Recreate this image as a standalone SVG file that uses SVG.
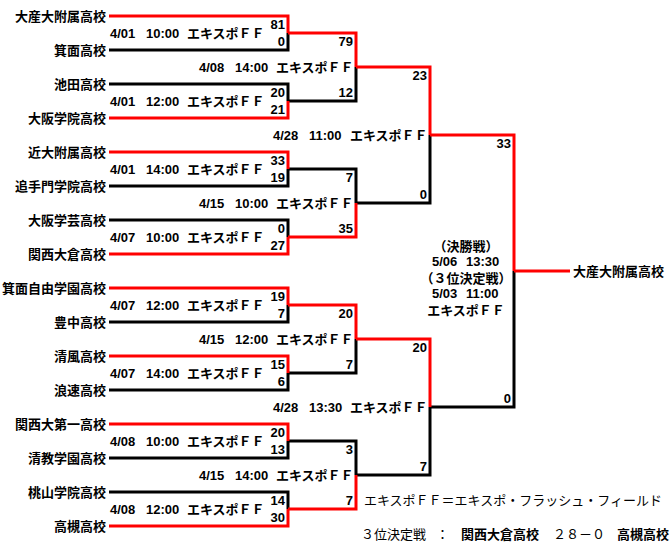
<svg xmlns="http://www.w3.org/2000/svg" width="670" height="542" viewBox="0 0 670 542">
<style>
text{font-family:"Noto Sans CJK JP","Noto Sans CJK SC",sans-serif;font-size:13px;fill:#000}
.b{font-weight:bold}
.n{font-weight:normal}
.tm{font-weight:bold;text-anchor:end}
.sc{font-family:"Liberation Sans","Noto Sans CJK JP",sans-serif;font-weight:bold;text-anchor:end}
.d{font-family:"Liberation Sans","Noto Sans CJK JP",sans-serif}
.mid{text-anchor:middle;font-weight:bold}
.k{fill:none;stroke:#000;stroke-width:3;stroke-linejoin:miter}
.r{fill:none;stroke:#f00;stroke-width:3;stroke-linejoin:miter}
</style>
<rect x="0" y="0" width="670" height="542" fill="#fff"/>
<g id="connectors">
<polyline class="k" points="109,50 288,50 288,33"/>
<polyline class="k" points="109,84 288,84 288,101"/>
<polyline class="k" points="109,186 288,186 288,169"/>
<polyline class="k" points="109,220 288,220 288,237"/>
<polyline class="k" points="109,322 288,322 288,305"/>
<polyline class="k" points="109,390 288,390 288,373"/>
<polyline class="k" points="109,458 288,458 288,441"/>
<polyline class="k" points="109,492 288,492 288,509"/>
<polyline class="k" points="288,101 356,101 356,67"/>
<polyline class="k" points="288,169 356,169 356,203"/>
<polyline class="k" points="288,373 356,373 356,339"/>
<polyline class="k" points="288,441 356,441 356,475"/>
<polyline class="k" points="356,203 430,203 430,135"/>
<polyline class="k" points="356,475 430,475 430,407"/>
<polyline class="k" points="430,407 514,407 514,271"/>
<polyline class="r" points="109,16 288,16 288,33"/>
<polyline class="r" points="109,118 288,118 288,101"/>
<polyline class="r" points="109,152 288,152 288,169"/>
<polyline class="r" points="109,254 288,254 288,237"/>
<polyline class="r" points="109,288 288,288 288,305"/>
<polyline class="r" points="109,356 288,356 288,373"/>
<polyline class="r" points="109,424 288,424 288,441"/>
<polyline class="r" points="109,526 288,526 288,509"/>
<polyline class="r" points="288,33 356,33 356,67"/>
<polyline class="r" points="288,237 356,237 356,203"/>
<polyline class="r" points="288,305 356,305 356,339"/>
<polyline class="r" points="288,509 356,509 356,475"/>
<polyline class="r" points="356,67 430,67 430,135"/>
<polyline class="r" points="356,339 430,339 430,407"/>
<polyline class="r" points="430,135 514,135 514,271"/>
<polyline class="r" points="514,271 570,271"/>
</g>
<g id="teams">
<text id="t1" class="tm" x="106" y="21">大産大附属高校</text>
<text id="t2" class="tm" x="106" y="55">箕面高校</text>
<text id="t3" class="tm" x="106" y="89">池田高校</text>
<text id="t4" class="tm" x="106" y="123">大阪学院高校</text>
<text id="t5" class="tm" x="106" y="157">近大附属高校</text>
<text id="t6" class="tm" x="106" y="191">追手門学院高校</text>
<text id="t7" class="tm" x="106" y="225">大阪学芸高校</text>
<text id="t8" class="tm" x="106" y="259">関西大倉高校</text>
<text id="t9" class="tm" x="106" y="293">箕面自由学園高校</text>
<text id="t10" class="tm" x="106" y="327">豊中高校</text>
<text id="t11" class="tm" x="106" y="361">清風高校</text>
<text id="t12" class="tm" x="106" y="395">浪速高校</text>
<text id="t13" class="tm" x="106" y="429">関西大第一高校</text>
<text id="t14" class="tm" x="106" y="463">清教学園高校</text>
<text id="t15" class="tm" x="106" y="497">桃山学院高校</text>
<text id="t16" class="tm" x="106" y="531">高槻高校</text>
<text id="champion" class="b" x="573" y="276">大産大附属高校</text>
</g>
<g id="matches">
<g id="m1"><text class="b" y="37.5"><tspan class="d" x="110">4/01</tspan><tspan class="d" x="146">10:00</tspan><tspan x="187">エキスポＦＦ</tspan></text><text class="sc" x="285" y="29">81</text><text class="sc" x="285" y="46">0</text></g>
<g id="m2"><text class="b" y="105.5"><tspan class="d" x="110">4/01</tspan><tspan class="d" x="146">12:00</tspan><tspan x="187">エキスポＦＦ</tspan></text><text class="sc" x="285" y="97">20</text><text class="sc" x="285" y="114">21</text></g>
<g id="m3"><text class="b" y="173.5"><tspan class="d" x="110">4/01</tspan><tspan class="d" x="146">14:00</tspan><tspan x="187">エキスポＦＦ</tspan></text><text class="sc" x="285" y="165">33</text><text class="sc" x="285" y="182">19</text></g>
<g id="m4"><text class="b" y="241.5"><tspan class="d" x="110">4/07</tspan><tspan class="d" x="146">10:00</tspan><tspan x="187">エキスポＦＦ</tspan></text><text class="sc" x="285" y="233">0</text><text class="sc" x="285" y="250">27</text></g>
<g id="m5"><text class="b" y="309.5"><tspan class="d" x="110">4/07</tspan><tspan class="d" x="146">12:00</tspan><tspan x="187">エキスポＦＦ</tspan></text><text class="sc" x="285" y="301">19</text><text class="sc" x="285" y="318">7</text></g>
<g id="m6"><text class="b" y="377.5"><tspan class="d" x="110">4/07</tspan><tspan class="d" x="146">14:00</tspan><tspan x="187">エキスポＦＦ</tspan></text><text class="sc" x="285" y="369">15</text><text class="sc" x="285" y="386">6</text></g>
<g id="m7"><text class="b" y="445.5"><tspan class="d" x="110">4/08</tspan><tspan class="d" x="146">10:00</tspan><tspan x="187">エキスポＦＦ</tspan></text><text class="sc" x="285" y="437">20</text><text class="sc" x="285" y="454">13</text></g>
<g id="m8"><text class="b" y="513.5"><tspan class="d" x="110">4/08</tspan><tspan class="d" x="146">12:00</tspan><tspan x="187">エキスポＦＦ</tspan></text><text class="sc" x="285" y="505">14</text><text class="sc" x="285" y="522">30</text></g>
<g id="m9"><text class="b" y="71.5"><tspan class="d" x="199">4/08</tspan><tspan class="d" x="235">14:00</tspan><tspan x="276">エキスポＦＦ</tspan></text><text class="sc" x="353" y="46">79</text><text class="sc" x="353" y="97">12</text></g>
<g id="m10"><text class="b" y="207.5"><tspan class="d" x="199">4/15</tspan><tspan class="d" x="235">10:00</tspan><tspan x="276">エキスポＦＦ</tspan></text><text class="sc" x="353" y="182">7</text><text class="sc" x="353" y="233">35</text></g>
<g id="m11"><text class="b" y="343.5"><tspan class="d" x="199">4/15</tspan><tspan class="d" x="235">12:00</tspan><tspan x="276">エキスポＦＦ</tspan></text><text class="sc" x="353" y="318">20</text><text class="sc" x="353" y="369">7</text></g>
<g id="m12"><text class="b" y="479.5"><tspan class="d" x="199">4/15</tspan><tspan class="d" x="235">14:00</tspan><tspan x="276">エキスポＦＦ</tspan></text><text class="sc" x="353" y="454">3</text><text class="sc" x="353" y="505">7</text></g>
<g id="m13"><text class="b" y="139.5"><tspan class="d" x="273">4/28</tspan><tspan class="d" x="309">11:00</tspan><tspan x="350">エキスポＦＦ</tspan></text><text class="sc" x="427" y="80">23</text><text class="sc" x="427" y="199">0</text></g>
<g id="m14"><text class="b" y="411.5"><tspan class="d" x="273">4/28</tspan><tspan class="d" x="309">13:30</tspan><tspan x="350">エキスポＦＦ</tspan></text><text class="sc" x="427" y="352">20</text><text class="sc" x="427" y="471">7</text></g>
<g id="final"><text class="sc" x="511" y="148">33</text><text class="sc" x="511" y="403">0</text>
<text class="mid" x="466" y="251" font-size="12">（決勝戦）</text>
<text class="b d" y="266" font-size="12.5"><tspan x="432">5/06</tspan><tspan x="466">13:30</tspan></text>
<text class="mid" x="466" y="283" font-size="12">（３位決定戦）</text>
<text class="b d" y="298" font-size="12.5"><tspan x="432">5/03</tspan><tspan x="466">11:00</tspan></text>
<text class="mid" x="466" y="315" font-size="12">エキスポＦＦ</text>
</g>
</g>
<g id="notes">
<text class="n" x="364" y="505">エキスポＦＦ＝エキスポ・フラッシュ・フィールド</text>
<text class="n" y="539"><tspan x="361">３位決定戦</tspan><tspan x="436">：</tspan><tspan x="461" font-weight="bold">関西大倉高校</tspan><tspan x="553">２８－０</tspan><tspan x="617" font-weight="bold">高槻高校</tspan></text>
</g>
</svg>
